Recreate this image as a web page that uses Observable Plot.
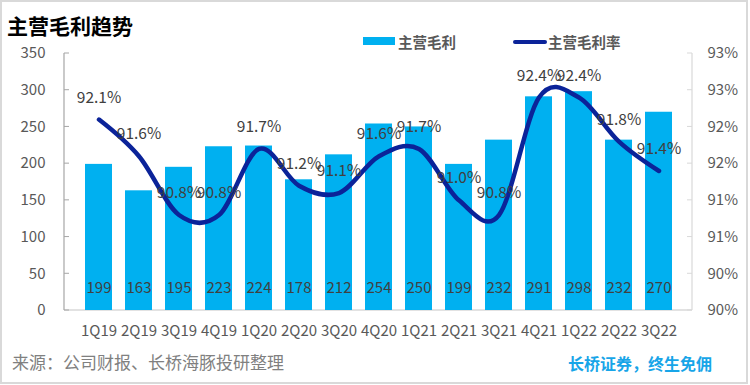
<!DOCTYPE html>
<html>
<head>
<meta charset="utf-8">
<script src="https://cdn.jsdelivr.net/npm/d3@7"></script>
<script src="https://cdn.jsdelivr.net/npm/@observablehq/plot@0.6"></script>
<style>
  body { margin: 0; background: #fff; }
  #wrap { position: relative; width: 750px; height: 385px; overflow: hidden; background: #fff;
          font-family: "Noto Sans CJK SC", "Noto Sans", sans-serif; }
  #frame { position: absolute; left: 0; top: 0; width: 748px; height: 384px; box-sizing: border-box;
           border: 2px solid #d9d9d9; pointer-events: none; }
  #chart { position: absolute; left: 0; top: 0; }
  .title { position: absolute; left: 7px; top: 13px; font-size: 21px; line-height: 24px; font-weight: 700; color: #000; }
  .leg { position: absolute; top: 33px; font-size: 14.5px; line-height: 18px; font-weight: 700; color: #595959; }
  .sw-bar { position: absolute; left: 363px; top: 37px; width: 32px; height: 8px; background: #00B0F0; }
  .sw-line { position: absolute; left: 513px; top: 40px; width: 34px; height: 4px; border-radius: 2px; background: #0b2399; }
  .src { position: absolute; left: 12px; top: 351px; font-size: 17px; line-height: 22px; color: #808080; }
  .brand { position: absolute; left: 568px; top: 352px; font-size: 16px; line-height: 22px; font-weight: 700; color: #17a5e8; }
</style>
</head>
<body>
<div id="wrap">
  <div id="chart"></div>
  <div class="title">主营毛利趋势</div>
  <div class="sw-bar"></div>
  <div class="leg" style="left:398px">主营毛利</div>
  <div class="sw-line"></div>
  <div class="leg" style="left:548px">主营毛利率</div>
  <div class="src">来源：公司财报、长桥海豚投研整理</div>
  <div class="brand">长桥证券，终生免佣</div>
  <div id="frame"></div>
</div>
<script>
// ---- data ----
const quarters = ["1Q19","2Q19","3Q19","4Q19","1Q20","2Q20","3Q20","4Q20","1Q21","2Q21","3Q21","4Q21","1Q22","2Q22","3Q22"];
const grossProfit = [199,163,195,223,224,178,212,254,250,199,232,291,298,232,270];
const grossMargin = [92.1,91.6,90.8,90.8,91.7,91.2,91.1,91.6,91.7,91.0,90.8,92.4,92.4,91.8,91.4];
const leftTicks = [0,50,100,150,200,250,300,350];
const rightTicks = [89.5,90,90.5,91,91.5,92,92.5,93];
const rightTickLabels = ["90%","90%","91%","91%","92%","92%","93%","93%"];
const leftDomain = [0,350];
const rightDomain = [89.5,93];

// map right-axis (%) values onto the left scale
const toLeft = d3.scaleLinear().domain(rightDomain).range(leftDomain);

const data = quarters.map((q,i) => ({q, gp: grossProfit[i], gm: grossMargin[i], gmL: toLeft(grossMargin[i])}));

const font = "Noto Sans CJK SC, Noto Sans, sans-serif";
const txt = "#404040";

const chart = Plot.plot({
  width: 750,
  height: 345,
  marginTop: 53,
  marginBottom: 35,
  marginLeft: 64,
  marginRight: 58,
  style: {fontFamily: font, background: "transparent", overflow: "visible"},
  x: {domain: quarters, padding: 0.33, label: null},
  y: {domain: leftDomain, label: null},
  marks: [
    Plot.barY(data, {x: "q", y: "gp", fill: "#00B0F0"}),
    Plot.text(data, {x: "q", text: d => String(d.gp), frameAnchor: "bottom", dy: -18, fill: txt, fontSize: 15}),
    Plot.line(data, {x: "q", y: "gmL", stroke: "#0b2399", strokeWidth: 4.5, curve: "cardinal", strokeLinecap: "round"}),
    Plot.text(data, {x: "q", y: "gmL", text: d => d.gm.toFixed(1) + "%", dy: -22, fill: txt, fontSize: 15.5}),
    Plot.axisY({anchor: "left", ticks: leftTicks, tickSize: 0, tickPadding: 19, fontSize: 15, color: "#595959", label: null}),
    Plot.axisY({anchor: "right", ticks: rightTicks.map(v => toLeft(v)), tickFormat: (d, i) => rightTickLabels[i], tickSize: 0, tickPadding: 15, fontSize: 15, color: "#595959", label: null}),
    Plot.axisX({tickSize: 0, tickPadding: 15, fontSize: 15, color: "#595959", label: null})
  ]
});
document.getElementById("chart").appendChild(chart);

// axis lines and inward ticks drawn from the scales
const xs = chart.scale("x"), ys = chart.scale("y");
const x0 = Math.min(...xs.range), x1 = Math.max(...xs.range);
const yTop = Math.min(...ys.range), yBot = Math.max(...ys.range);
const svg = d3.select(chart);
const g = svg.append("g");
g.append("line").attr("x1", x0).attr("x2", x1).attr("y1", yBot).attr("y2", yBot).attr("stroke", "#d9d9d9").attr("stroke-width", 1.5);
g.append("line").attr("x1", x0).attr("x2", x0).attr("y1", yTop).attr("y2", yBot).attr("stroke", "#a6a6a6").attr("stroke-width", 1.2);
g.append("line").attr("x1", x1).attr("x2", x1).attr("y1", yTop).attr("y2", yBot).attr("stroke", "#d9d9d9").attr("stroke-width", 1.2);
const ysc = d3.scaleLinear().domain(ys.domain).range(ys.range);
leftTicks.forEach(t => {
  g.append("line").attr("x1", x0).attr("x2", x0 + 5).attr("y1", ysc(t)).attr("y2", ysc(t)).attr("stroke", "#a6a6a6");
  g.append("line").attr("x1", x1 - 5).attr("x2", x1).attr("y1", ysc(t)).attr("y2", ysc(t)).attr("stroke", "#d9d9d9");
});
// move rules beneath bars
chart.insertBefore(g.node(), chart.querySelector("g[aria-label='bar']"));
</script>
</body>
</html>
